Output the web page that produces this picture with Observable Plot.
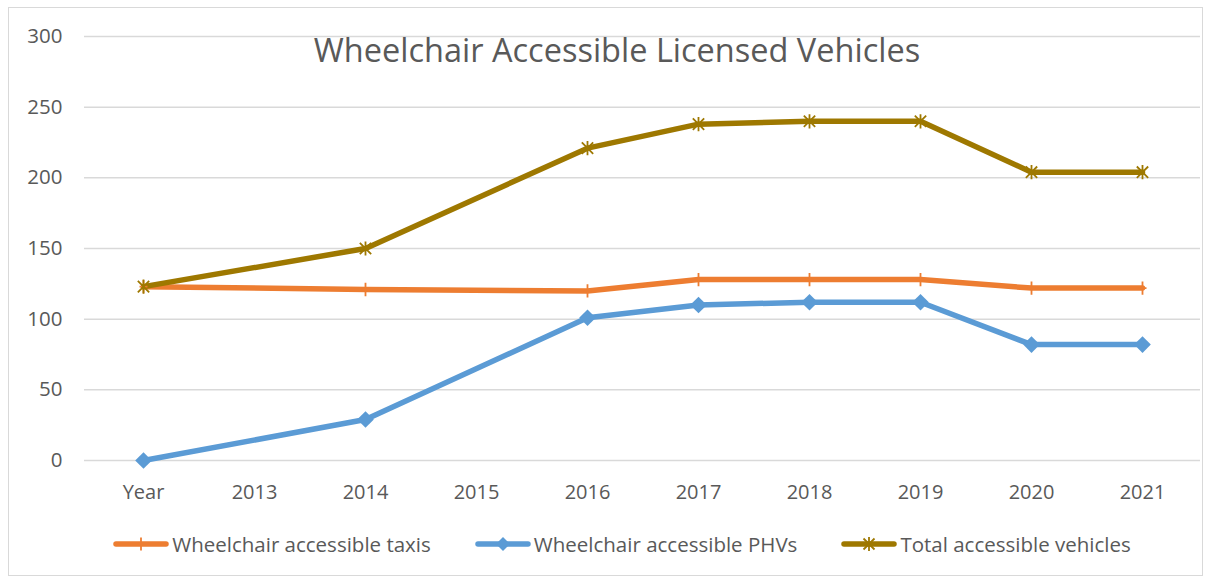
<!DOCTYPE html>
<html>
<head>
<meta charset="utf-8">
<script src="https://cdn.jsdelivr.net/npm/d3@7"></script>
<script src="https://cdn.jsdelivr.net/npm/@observablehq/plot@0.6"></script>
<style>
  body { margin: 0; background: #fff; }
  #wrap { position: relative; width: 1212px; height: 581px; overflow: hidden; font-family: "Open Sans", sans-serif; color: #595959; }
  #frame { position: absolute; left: 8px; top: 7px; width: 1195px; height: 569px; border: 1px solid #d9d9d9; box-sizing: border-box; }
  #chart { position: absolute; left: 0; top: 0; }
  #title { position: absolute; left: 0; width: 1234px; top: 27px; text-align: center; font-size: 32.5px; color: #595959; white-space: nowrap; }
  #legend { position: absolute; top: 530px; left: 16px; width: 1212px; display: flex; justify-content: center; font-size: 20.5px; }
  .item { display: flex; align-items: center; margin: 0 22px; white-space: nowrap; }
  .item svg { margin-right: 3px; }
</style>
</head>
<body>
<div id="wrap">
  <div id="frame"></div>
  <div id="chart"></div>
  <div id="title">Wheelchair Accessible Licensed Vehicles</div>
  <div id="legend"></div>
</div>
<script>
const categories = ["Year", "2013", "2014", "2015", "2016", "2017", "2018", "2019", "2020", "2021"];
const pointCategories = ["Year", "2014", "2016", "2017", "2018", "2019", "2020", "2021"];
const taxis = [123, 121, 120, 128, 128, 128, 122, 122];
const phvs = [0, 29, 101, 110, 112, 112, 82, 82];
const total = [123, 150, 221, 238, 240, 240, 204, 204];
const yTicks = [0, 50, 100, 150, 200, 250, 300];

const seriesNames = ["Wheelchair accessible taxis", "Wheelchair accessible PHVs", "Total accessible vehicles"];
const seriesValues = [taxis, phvs, total];
const seriesColors = ["#ED7D31", "#5B9BD5", "#9E7800"];
const seriesSymbols = ["plus", "diamond2", "asterisk"];

const rows = [];
seriesNames.forEach((s, i) => {
  pointCategories.forEach((c, j) => rows.push({series: s, cat: c, value: seriesValues[i][j], idx: i}));
});

// Excel-style star marker: an X plus a vertical stroke
const starSymbol = {
  draw(context, size) {
    const r = Math.sqrt(size) / 2;
    const d = r * 0.8;
    context.moveTo(0, -r); context.lineTo(0, r);
    context.moveTo(-d, -d); context.lineTo(d, d);
    context.moveTo(-d, d); context.lineTo(d, -d);
  }
};
// Vertical tick (Excel "plus" marker, horizontal hidden by line)
const plusSymbol = {
  draw(context, size) {
    const r = Math.sqrt(size) / 2;
    context.moveTo(0, -r); context.lineTo(0, r);
    context.moveTo(-r * 0.6, 0); context.lineTo(r * 0.6, 0);
  }
};

const lineWidth = 5.5;
const marks = [
  Plot.ruleY(yTicks, {stroke: "#d9d9d9", strokeWidth: 1.5}),
  Plot.axisY({ticks: yTicks, tickSize: 0, tickPadding: 22, fontSize: 20.5, fill: "#595959", label: null}),
  Plot.axisX({tickSize: 0, tickPadding: 24, fontSize: 20, fill: "#595959", label: null})
];
[0, 1, 2].forEach(i => {
  const data = rows.filter(r => r.idx === i);
  marks.push(Plot.line(data, {x: "cat", y: "value", stroke: seriesColors[i], strokeWidth: lineWidth, strokeLinejoin: "round"}));
});
// markers
marks.push(Plot.dot(rows.filter(r => r.idx === 0), {x: "cat", y: "value", symbol: plusSymbol, r: 7.5, stroke: seriesColors[0], strokeWidth: 1.8}));
marks.push(Plot.dot(rows.filter(r => r.idx === 1), {x: "cat", y: "value", symbol: "diamond2", r: 7.5, fill: seriesColors[1], stroke: "none"}));
marks.push(Plot.dot(rows.filter(r => r.idx === 2), {x: "cat", y: "value", symbol: starSymbol, r: 8, stroke: seriesColors[2], strokeWidth: 1.8}));

const chart = Plot.plot({
  width: 1212,
  height: 520,
  marginLeft: 84,
  marginRight: 12,
  marginTop: 36,
  marginBottom: 60,
  style: {fontFamily: "Open Sans, sans-serif", background: "transparent", color: "#595959"},
  x: {type: "point", domain: categories, padding: 0.5},
  y: {domain: [0, 300], range: [460, 36]},
  marks
});
document.getElementById("chart").appendChild(chart);

// legend
const legend = document.getElementById("legend");
seriesNames.forEach((name, i) => {
  const item = document.createElement("div");
  item.className = "item";
  let markerSvg;
  if (seriesSymbols[i] === "diamond2") {
    markerSvg = `<path d="M28,-7 L35,0 L28,7 L21,0Z" fill="${seriesColors[i]}"/>`;
  } else if (seriesSymbols[i] === "plus") {
    markerSvg = `<line x1="28" x2="28" y1="-6.5" y2="6.5" stroke="${seriesColors[i]}" stroke-width="1.8"/>`;
  } else {
    markerSvg = `<g stroke="${seriesColors[i]}" stroke-width="1.8"><line x1="28" x2="28" y1="-7" y2="7"/><line x1="22.5" x2="33.5" y1="-5.5" y2="5.5"/><line x1="22.5" x2="33.5" y1="5.5" y2="-5.5"/></g>`;
  }
  item.innerHTML = `<svg width="56" height="20" viewBox="0 -10 56 20"><line x1="3" x2="53" y1="0" y2="0" stroke="${seriesColors[i]}" stroke-width="${lineWidth}" stroke-linecap="round"/>${markerSvg}</svg><span>${name}</span>`;
  legend.appendChild(item);
});
</script>
</body>
</html>
